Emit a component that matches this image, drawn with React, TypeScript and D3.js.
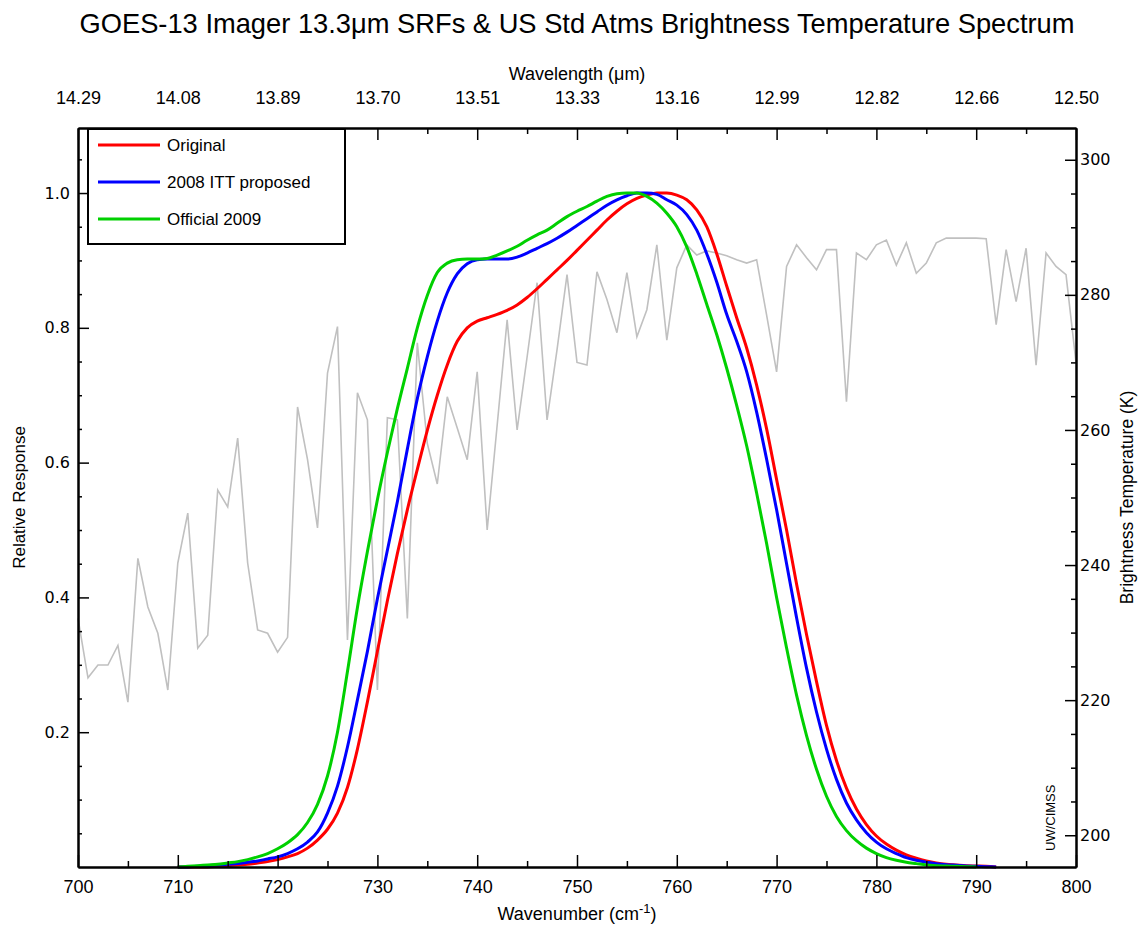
import React, { useEffect, useRef } from "react";
import * as d3 from "d3";

const W = 1141;
const H = 927;
const PLOT = { left: 78, right: 1076, top: 128, bottom: 867 };

const titleText = "GOES-13 Imager 13.3\u03bcm SRFs & US Std Atms Brightness Temperature Spectrum";
const topAxisTitle = "Wavelength (\u03bcm)";
const leftAxisTitle = "Relative Response";
const rightAxisTitle = "Brightness Temperature (K)";
const creditText = "UW/CIMSS";

const xDomain = [700, 800];
const yLeftDomain = [0, 1.0965];
const yRightDomain = [195.3, 304.7];

const xMajorTicks = [700, 710, 720, 730, 740, 750, 760, 770, 780, 790, 800];
const xMinorTicks = [705, 715, 725, 735, 745, 755, 765, 775, 785, 795];
const topTickLabels = ["14.29", "14.08", "13.89", "13.70", "13.51", "13.33", "13.16", "12.99", "12.82", "12.66", "12.50"];
const yLeftMajorTicks = [0.2, 0.4, 0.6, 0.8, 1.0];
const yLeftMinorTicks = [0.05, 0.1, 0.15, 0.25, 0.3, 0.35, 0.45, 0.5, 0.55, 0.65, 0.7, 0.75, 0.85, 0.9, 0.95, 1.05];
const yRightMajorTicks = [200, 220, 240, 260, 280, 300];
const yRightMinorTicks = [205, 210, 215, 225, 230, 235, 245, 250, 255, 265, 270, 275, 285, 290, 295];

// Brightness temperature spectrum (K) at 1 cm-1 spacing
const btWavenumbers = [
  700, 701, 702, 703, 704, 705, 706, 707, 708, 709,
  710, 711, 712, 713, 714, 715, 716, 717, 718, 719,
  720, 721, 722, 723, 724, 725, 726, 727, 728, 729,
  730, 731, 732, 733, 734, 735, 736, 737, 738, 739,
  740, 741, 742, 743, 744, 745, 746, 747, 748, 749,
  750, 751, 752, 753, 754, 755, 756, 757, 758, 759,
  760, 761, 762, 763, 764, 765, 766, 767, 768, 769,
  770, 771, 772, 773, 774, 775, 776, 777, 778, 779,
  780, 781, 782, 783, 784, 785, 786, 787, 788, 789,
  790, 791, 792, 793, 794, 795, 796, 797, 798, 799, 800,
];
const btValues = [
  232.1, 223.3, 225.2, 225.2, 228.1, 219.7, 241.0, 233.8, 229.9, 221.5,
  240.3, 247.7, 227.7, 229.6, 251.1, 248.6, 258.8, 240.3, 230.4, 229.9,
  227.1, 229.3, 263.4, 255.6, 245.5, 268.4, 275.3, 228.9, 265.5, 261.5,
  221.5, 261.8, 261.5, 232.1, 272.9, 258.0, 252.0, 264.9, 260.3, 255.6,
  268.6, 245.2, 260.7, 276.3, 260.0, 270.8, 281.8, 261.5, 271.9, 283.0,
  270.0, 269.6, 283.4, 279.3, 274.4, 283.3, 273.8, 277.8, 287.4, 273.3,
  284.0, 287.4, 285.9, 286.5, 286.2, 285.8, 285.2, 284.7, 285.2, 277.0,
  268.6, 284.2, 287.4, 285.5, 283.7, 286.7, 286.7, 264.2, 286.2, 285.2,
  287.4, 288.1, 284.4, 287.7, 283.2, 284.7, 287.7, 288.4, 288.4, 288.4,
  288.4, 288.3, 275.6, 286.7, 279.0, 286.9, 269.6, 286.2, 284.2, 283.0, 270.0,
];

// Spectral response functions
const srfWavenumbers = [
  710, 711, 712, 713, 714, 715, 716, 717, 718, 719,
  720, 721, 722, 723, 724, 725, 726, 727, 728, 729,
  730, 731, 732, 733, 734, 735, 736, 737, 738, 739,
  740, 741, 742, 743, 744, 745, 746, 747, 748, 749,
  750, 751, 752, 753, 754, 755, 756, 757, 758, 759,
  760, 761, 762, 763, 764, 765, 766, 767, 768, 769,
  770, 771, 772, 773, 774, 775, 776, 777, 778, 779,
  780, 781, 782, 783, 784, 785, 786, 787, 788, 789,
  790, 791, 792,
];
const srfOriginal = [
  0.0, 0.0, 0.0, 0.0, 0.001, 0.002, 0.003, 0.004, 0.006, 0.008,
  0.011, 0.015, 0.02, 0.028, 0.04, 0.056, 0.08, 0.118, 0.175, 0.245,
  0.32, 0.395, 0.465, 0.53, 0.59, 0.648, 0.7, 0.745, 0.78, 0.8,
  0.81, 0.815, 0.82, 0.826, 0.834, 0.845, 0.858, 0.872, 0.886, 0.9,
  0.915, 0.93, 0.945, 0.96, 0.973, 0.984, 0.992, 0.997, 1.0, 1.0,
  0.997, 0.99, 0.975, 0.95, 0.91, 0.862, 0.815, 0.77, 0.715, 0.65,
  0.575, 0.5, 0.42, 0.345, 0.275, 0.21, 0.158, 0.117, 0.086, 0.063,
  0.046, 0.034, 0.025, 0.018, 0.013, 0.009, 0.006, 0.004, 0.003, 0.002,
  0.0015, 0.001, 0.0,
];
const srfItt2008 = [
  0.0, 0.0, 0.001, 0.002, 0.003, 0.004, 0.005, 0.007, 0.009, 0.012,
  0.015, 0.02, 0.027, 0.037, 0.052, 0.08, 0.12, 0.178, 0.248, 0.32,
  0.398, 0.47, 0.542, 0.62, 0.695, 0.757, 0.81, 0.852, 0.88, 0.895,
  0.901, 0.902, 0.902, 0.902, 0.905, 0.911, 0.918, 0.925, 0.933, 0.942,
  0.952, 0.962, 0.972, 0.982, 0.99, 0.996, 1.0, 1.0, 0.998, 0.99,
  0.982, 0.968, 0.945, 0.91, 0.868, 0.82, 0.78, 0.735, 0.675, 0.605,
  0.53, 0.45, 0.37, 0.295, 0.23, 0.175, 0.13, 0.095, 0.07, 0.051,
  0.037, 0.027, 0.02, 0.014, 0.01, 0.007, 0.005, 0.0035, 0.0025, 0.0015,
  0.001, 0.0005, 0.0,
];
const srfOfficial2009 = [
  0.0, 0.001, 0.002, 0.003, 0.004, 0.006, 0.008, 0.011, 0.015, 0.02,
  0.027, 0.036, 0.048, 0.066, 0.093, 0.135, 0.2, 0.29, 0.385, 0.468,
  0.545, 0.615, 0.68, 0.74, 0.8, 0.848, 0.882, 0.896, 0.901, 0.902,
  0.902, 0.903, 0.908, 0.914, 0.921, 0.93, 0.938, 0.945, 0.955, 0.965,
  0.973, 0.98, 0.988, 0.995, 0.999, 1.0, 1.0, 0.995, 0.985, 0.97,
  0.95, 0.92, 0.88, 0.835, 0.79, 0.74, 0.685, 0.625, 0.555, 0.48,
  0.4, 0.325, 0.255, 0.195, 0.145, 0.105, 0.075, 0.054, 0.039, 0.028,
  0.02, 0.014, 0.01, 0.007, 0.005, 0.003, 0.002, 0.0015, 0.001, 0.0005,
  0.0, null, null,
];

const seriesNames = ["Original", "2008 ITT proposed", "Official 2009"];
const seriesColors = ["#ff0000", "#0000ff", "#00d000"];
const seriesValues = [srfOriginal, srfItt2008, srfOfficial2009];
const btColor = "#c0c0c0";

const SANS = "'Liberation Sans', Arial, sans-serif";
const ROUND = "'DejaVu Sans', Verdana, sans-serif";

export default function App() {
  const ref = useRef<SVGSVGElement | null>(null);

  useEffect(() => {
    document.body.style.margin = "0";
    const svg = d3.select(ref.current);
    svg.selectAll("*").remove();

    const x = d3.scaleLinear().domain(xDomain).range([PLOT.left, PLOT.right]);
    const yL = d3.scaleLinear().domain(yLeftDomain).range([PLOT.bottom, PLOT.top]);
    const yR = d3.scaleLinear().domain(yRightDomain).range([PLOT.bottom, PLOT.top]);

    svg.append("rect").attr("width", W).attr("height", H).attr("fill", "#ffffff");

    // title
    svg.append("text")
      .attr("x", (PLOT.left + PLOT.right) / 2)
      .attr("y", 33)
      .attr("text-anchor", "middle")
      .attr("font-family", SANS)
      .attr("font-size", 28)
      .attr("textLength", 995)
      .attr("lengthAdjust", "spacingAndGlyphs")
      .text(titleText);

    svg.append("text")
      .attr("x", (PLOT.left + PLOT.right) / 2)
      .attr("y", 80)
      .attr("text-anchor", "middle")
      .attr("font-family", SANS)
      .attr("font-size", 18)
      .text(topAxisTitle);

    // data lines
    const gData = svg.append("g");
    const btData = btWavenumbers.map((w, i) => [w, btValues[i]] as [number, number]);
    gData.append("path")
      .datum(btData)
      .attr("fill", "none")
      .attr("stroke", btColor)
      .attr("stroke-width", 1.6)
      .attr("d", d3.line<[number, number]>().x((d) => x(d[0])).y((d) => yR(d[1])));

    const srfLine = d3.line<[number, number | null]>()
      .defined((d) => d[1] !== null)
      .curve(d3.curveMonotoneX)
      .x((d) => x(d[0]))
      .y((d) => yL(d[1] as number));
    seriesValues.forEach((vals, k) => {
      const data = srfWavenumbers.map((w, i) => [w, vals[i]] as [number, number | null]);
      gData.append("path")
        .datum(data)
        .attr("fill", "none")
        .attr("stroke", seriesColors[k])
        .attr("stroke-width", 3)
        .attr("stroke-linejoin", "round")
        .attr("d", srfLine);
    });

    const styleAxis = (g: any, family: string, size: number) => {
      g.select(".domain").attr("stroke", "#000").attr("stroke-width", 2);
      g.selectAll(".tick line").attr("stroke", "#000").attr("stroke-width", 1.5);
      g.selectAll(".tick text").attr("font-family", family).attr("font-size", size).attr("fill", "#000");
    };

    // bottom axis
    const gB = svg.append("g").attr("transform", `translate(0,${PLOT.bottom})`);
    gB.call(d3.axisBottom(x).tickValues(xMajorTicks).tickFormat(d3.format("d")).tickSizeInner(-12).tickSizeOuter(0).tickPadding(13));
    styleAxis(gB, SANS, 18);
    const gBm = svg.append("g").attr("transform", `translate(0,${PLOT.bottom})`);
    gBm.call(d3.axisBottom(x).tickValues(xMinorTicks).tickFormat(() => "").tickSizeInner(-6).tickSizeOuter(0));
    styleAxis(gBm, SANS, 18);

    // top axis
    const gT = svg.append("g").attr("transform", `translate(0,${PLOT.top})`);
    gT.call(d3.axisTop(x).tickValues(xMajorTicks).tickFormat((_d: any, i: number) => topTickLabels[i]).tickSizeInner(-12).tickSizeOuter(0).tickPadding(24));
    styleAxis(gT, SANS, 18);
    const gTm = svg.append("g").attr("transform", `translate(0,${PLOT.top})`);
    gTm.call(d3.axisTop(x).tickValues(xMinorTicks).tickFormat(() => "").tickSizeInner(-6).tickSizeOuter(0));
    styleAxis(gTm, SANS, 18);

    // left axis
    const gL = svg.append("g").attr("transform", `translate(${PLOT.left},0)`);
    gL.call(d3.axisLeft(yL).tickValues(yLeftMajorTicks).tickFormat(d3.format(".1f")).tickSizeInner(-11).tickSizeOuter(0).tickPadding(8));
    styleAxis(gL, ROUND, 16);
    const gLm = svg.append("g").attr("transform", `translate(${PLOT.left},0)`);
    gLm.call(d3.axisLeft(yL).tickValues(yLeftMinorTicks).tickFormat(() => "").tickSizeInner(-4).tickSizeOuter(0));
    styleAxis(gLm, ROUND, 16);

    // right axis
    const gR = svg.append("g").attr("transform", `translate(${PLOT.right},0)`);
    gR.call(d3.axisRight(yR).tickValues(yRightMajorTicks).tickFormat(d3.format("d")).tickSizeInner(-11).tickSizeOuter(0).tickPadding(4));
    styleAxis(gR, ROUND, 16);
    const gRm = svg.append("g").attr("transform", `translate(${PLOT.right},0)`);
    gRm.call(d3.axisRight(yR).tickValues(yRightMinorTicks).tickFormat(() => "").tickSizeInner(-5).tickSizeOuter(0));
    styleAxis(gRm, ROUND, 16);

    // axis titles
    const bt = svg.append("text")
      .attr("x", (PLOT.left + PLOT.right) / 2)
      .attr("y", 920)
      .attr("text-anchor", "middle")
      .attr("font-family", SANS)
      .attr("font-size", 18);
    bt.append("tspan").text("Wavenumber (cm");
    bt.append("tspan").attr("dy", -7).attr("font-size", 13).text("-1");
    bt.append("tspan").attr("dy", 7).text(")");

    svg.append("text")
      .attr("transform", `translate(25,${(PLOT.top + PLOT.bottom) / 2}) rotate(-90)`)
      .attr("text-anchor", "middle")
      .attr("font-family", SANS)
      .attr("font-size", 17)
      .text(leftAxisTitle);

    svg.append("text")
      .attr("transform", `translate(1133,${(PLOT.top + PLOT.bottom) / 2}) rotate(-90)`)
      .attr("text-anchor", "middle")
      .attr("font-family", SANS)
      .attr("font-size", 17.5)
      .text(rightAxisTitle);

    svg.append("text")
      .attr("transform", `translate(1055,${PLOT.bottom - 16}) rotate(-90)`)
      .attr("text-anchor", "start")
      .attr("font-family", SANS)
      .attr("font-size", 13)
      .text(creditText);

    // legend
    const lg = svg.append("g");
    lg.append("rect")
      .attr("x", 88).attr("y", 129).attr("width", 257).attr("height", 115)
      .attr("fill", "#fff").attr("stroke", "#000").attr("stroke-width", 2);
    const legendY = d3.scalePoint<string>().domain(seriesNames).range([145, 219]);
    seriesNames.forEach((name, k) => {
      const yy = legendY(name) as number;
      lg.append("line")
        .attr("x1", 98).attr("x2", 160).attr("y1", yy).attr("y2", yy)
        .attr("stroke", seriesColors[k]).attr("stroke-width", 3);
      lg.append("text")
        .attr("x", 167).attr("y", yy + 6)
        .attr("font-family", SANS)
        .attr("font-size", 17)
        .text(name);
    });
  }, []);

  return (
    <svg
      ref={ref}
      width={W}
      height={H}
      style={{ position: "absolute", left: 0, top: 0, display: "block" }}
    />
  );
}
